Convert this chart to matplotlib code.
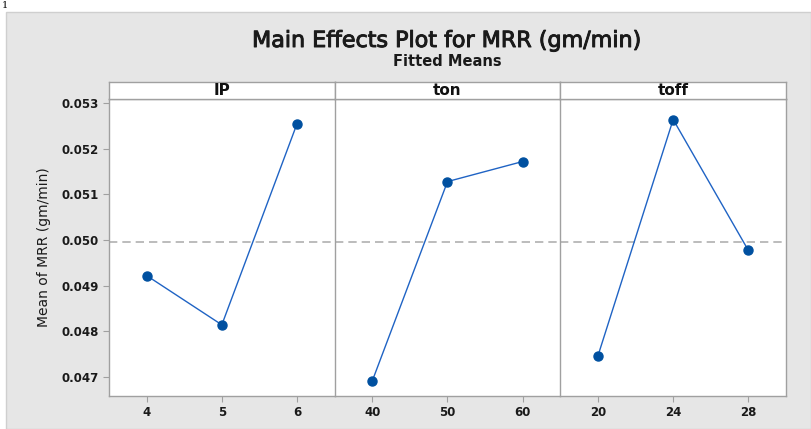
import numpy as np
import matplotlib
matplotlib.use("Agg")
from matplotlib import pyplot as plt
from matplotlib.patches import Rectangle
import matplotlib.patheffects as pe

# factor levels and fitted means
factors = ["IP", "ton", "toff"]
ip_levels = [4, 5, 6]
ip_means = [0.04922, 0.04814, 0.05255]
ton_levels = [40, 50, 60]
ton_means = [0.04691, 0.05128, 0.05172]
toff_levels = [20, 24, 28]
toff_means = [0.04746, 0.05264, 0.04977]

yticks = [0.047, 0.048, 0.049, 0.050, 0.051, 0.052, 0.053]

levels = [ip_levels, ton_levels, toff_levels]
means = [ip_means, ton_means, toff_means]
grand_mean = np.mean(ip_means + ton_means + toff_means)

W, H = 811, 429
fig = plt.figure(figsize=(W / 100, H / 100), dpi=100)
fig.patch.set_facecolor("white")
plt.rcParams['font.family'] = ['DejaVu Sans']

# grey background panel
fig.patches.append(Rectangle((6 / W, 0), 1 - 6 / W, 1 - 12 / H, transform=fig.transFigure,
                             facecolor="#e6e6e6", edgecolor="#cfcfcf", linewidth=1.0, zorder=-5))
fig.text(2 / W, 1 - 1 / H, "1", family="DejaVu Serif", fontsize=7, va="top", ha="left")

cx = 447 / W
fig.text(cx, 1 - 41 / H, "Main Effects Plot for MRR (gm/min)", ha="center", va="center",
         fontsize=16, color="#1a1a1a",
         path_effects=[pe.withStroke(linewidth=0.7, foreground="#1a1a1a")])
fig.text(cx, 1 - 62 / H, "Fitted Means", ha="center", va="center",
         fontsize=10.5, fontweight="bold", color="#1a1a1a")

left, right = 109 / W, 786 / W
bottom, top = 1 - 396 / H, 1 - 99 / H
strip_h = 17 / H
pw = (right - left) / 3
grey = "#a0a0a0"

for i in range(3):
    ax = fig.add_axes([left + i * pw, bottom, pw, top - bottom])
    ax.plot(levels[i], means[i], color="#1f63c4", linewidth=1.0, zorder=2)
    ax.plot(levels[i], means[i], "o", color="#0050a0", markersize=6.5, zorder=3)
    ax.axhline(grand_mean, color="#b0b0b0", linestyle=(0, (5, 3)), linewidth=1.2, zorder=1)
    step = levels[i][1] - levels[i][0]
    ax.set_xlim(levels[i][0] - step / 2, levels[i][-1] + step / 2)
    ax.set_ylim(0.04658, 0.05309)
    ax.set_xticks(levels[i])
    ax.set_xticklabels([str(v) for v in levels[i]], fontsize=8.5, fontweight="bold", color="#1a1a1a")
    ax.set_yticks(yticks)
    if i == 0:
        ax.set_yticklabels([f"{v:.3f}" for v in yticks], fontsize=8.5, fontweight="bold", color="#1a1a1a")
        ax.set_ylabel("Mean of MRR (gm/min)", fontsize=10, color="#1a1a1a", labelpad=7)
    else:
        ax.tick_params(axis="y", left=False, labelleft=False)
    ax.tick_params(length=4, width=0.8, color=grey, pad=3.5)
    for s in ax.spines.values():
        s.set_color(grey)
        s.set_linewidth(1.0)
    if i < 2:
        ax.spines["right"].set_visible(False)

    sax = fig.add_axes([left + i * pw, top, pw, strip_h])
    sax.set_xticks([])
    sax.set_yticks([])
    for s in sax.spines.values():
        s.set_color(grey)
        s.set_linewidth(1.0)
    sax.text(0.5, 0.5, factors[i], ha="center", va="center", transform=sax.transAxes,
             fontsize=11, fontweight="bold", color="#111111")

fig.savefig("out.png", dpi=100)
